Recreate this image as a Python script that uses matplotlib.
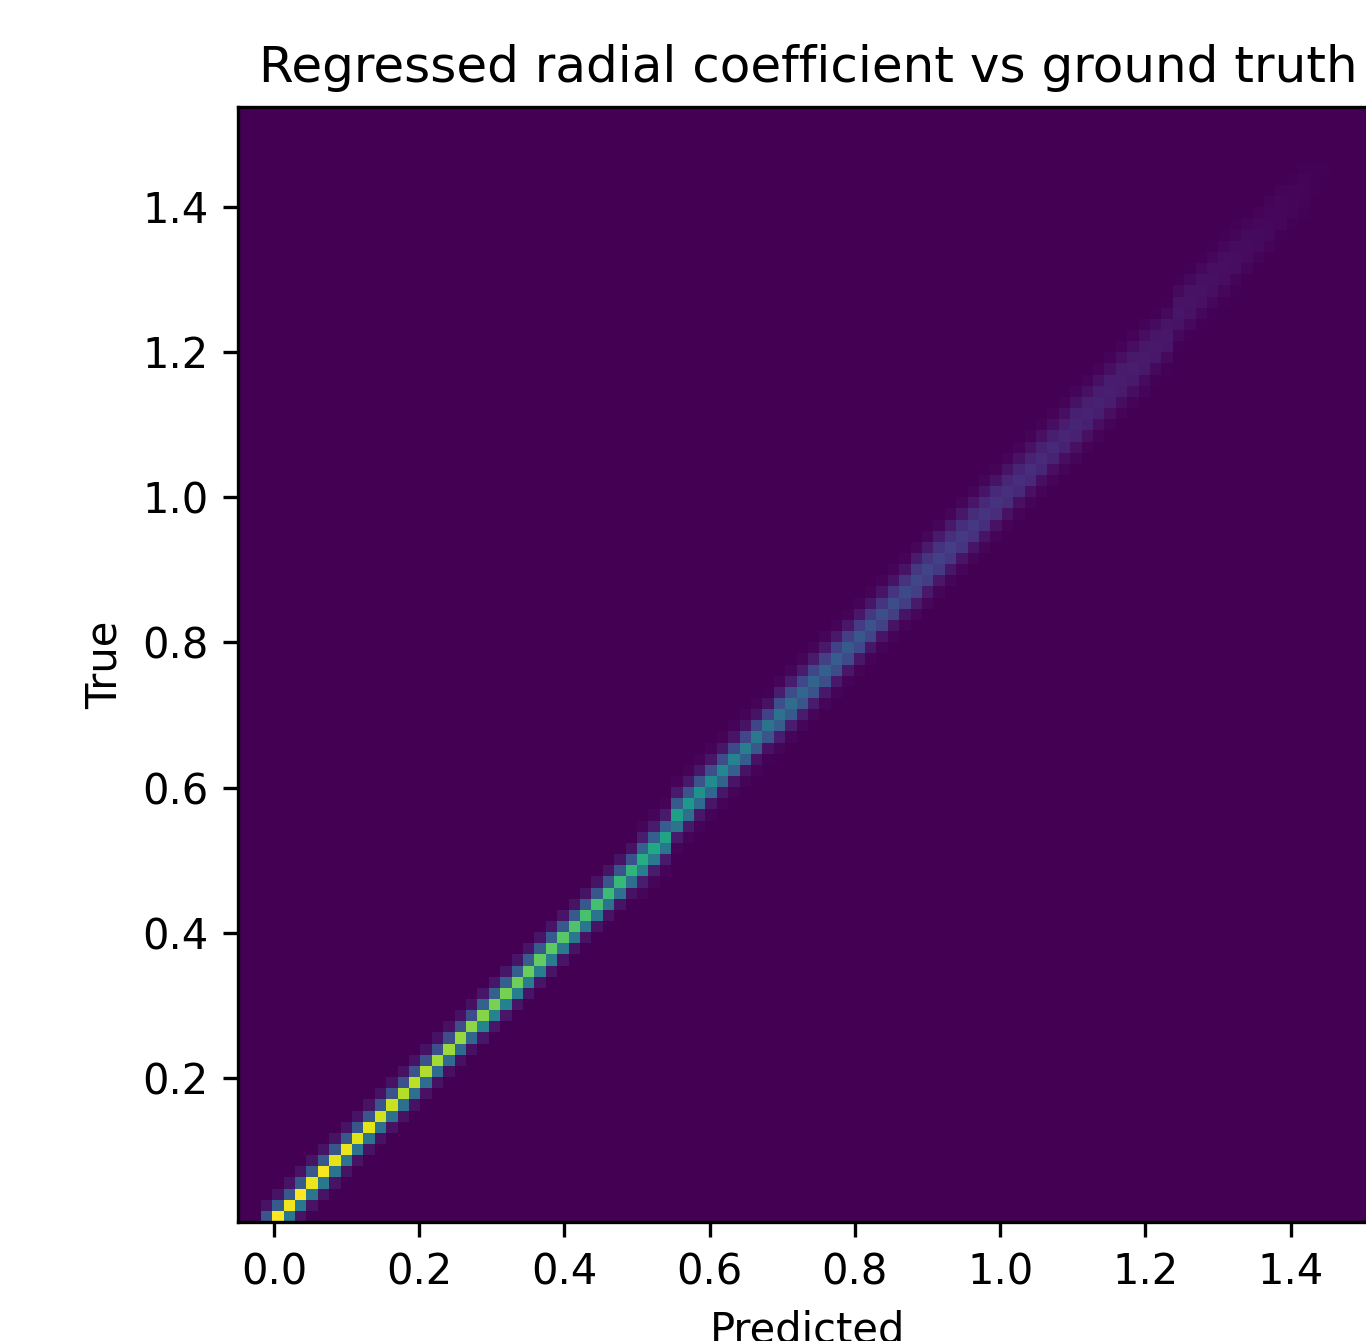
import numpy as np
import matplotlib
matplotlib.use('Agg')
from matplotlib import pyplot as plt

# histogram extent (bin edges span the data range)
pred_range = (-0.0496, 1.5204)
true_range = (0.002, 1.537)
n_bins = 100

# peak count (fraction of max) in each predicted-value column, cols 2..95
peak = [0.95, 1.00, 0.98, 1.00, 0.97, 0.99, 0.96, 0.97, 0.95, 0.96, 0.93,
        0.92, 0.89, 0.90, 0.88, 0.86, 0.85, 0.84, 0.83, 0.82, 0.80, 0.79,
        0.78, 0.77, 0.76, 0.75, 0.74, 0.72, 0.71, 0.70, 0.68, 0.67, 0.65,
        0.62, 0.60, 0.58, 0.56, 0.53, 0.51, 0.48, 0.46, 0.44, 0.42, 0.40,
        0.38, 0.37, 0.35, 0.33, 0.32, 0.30, 0.29, 0.28, 0.27, 0.25, 0.24,
        0.23, 0.22, 0.21, 0.20, 0.19, 0.18, 0.17, 0.16, 0.15, 0.145, 0.14,
        0.13, 0.125, 0.12, 0.11, 0.105, 0.10, 0.095, 0.09, 0.085, 0.08,
        0.075, 0.07, 0.065, 0.06, 0.055, 0.05, 0.046, 0.042, 0.038, 0.034,
        0.03, 0.026, 0.022, 0.018, 0.014, 0.01, 0.007, 0.004]
first_col = 2

# spread across the ridge, rows below..above the peak (relative to peak)
profile_offsets = [-3, -2, -1, 0, 1, 2, 3]
profiles = [
    [0.00, 0.05, 0.40, 1.0, 0.28, 0.05, 0.00],
    [0.00, 0.07, 0.55, 1.0, 0.38, 0.07, 0.00],
    [0.02, 0.12, 0.68, 1.0, 0.50, 0.12, 0.02],
    [0.04, 0.22, 0.80, 1.0, 0.65, 0.22, 0.04],
    [0.08, 0.32, 0.88, 1.0, 0.78, 0.35, 0.08],
    [0.12, 0.42, 0.92, 1.0, 0.88, 0.45, 0.12],
]
profile_from_col = [0, 21, 35, 47, 59, 73]

xw = (pred_range[1] - pred_range[0]) / n_bins
yw = (true_range[1] - true_range[0]) / n_bins

px, py, wt = [], [], []
for j, p in enumerate(peak):
    col = first_col + j
    xc = pred_range[0] + (col + 0.5) * xw
    g = sum(1 for s in profile_from_col if col >= s) - 1
    for k, r in zip(profile_offsets, profiles[g]):
        if r == 0:
            continue
        px.append(xc)
        py.append(xc + k * yw)
        wt.append(p * r)

fig = plt.figure(figsize=(1366 / 300, 1341 / 300), dpi=300)
ax = fig.add_axes([0.1742, 0.0887, 0.8346, 0.8315])
ax.hist2d(px, py, bins=n_bins, range=[pred_range, true_range], weights=wt,
          cmap='viridis', vmin=0, vmax=1.0)
ax.set_title('Regressed radial coefficient vs ground truth')
ax.set_xlabel('Predicted')
ax.set_ylabel('True')
fig.savefig('out.png', dpi=300)
